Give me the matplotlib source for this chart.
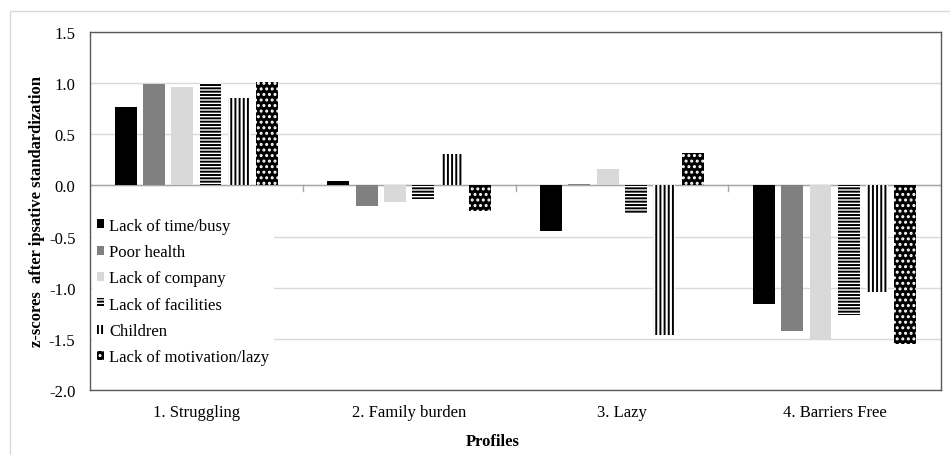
import matplotlib
matplotlib.use("Agg")
import matplotlib.pyplot as plt
from matplotlib.patches import Rectangle

# profiles and barrier scores (z-scores after ipsative standardization)
profiles = ["1. Struggling", "2. Family burden", "3. Lazy", "4. Barriers Free"]
barriers = ["Lack of time/busy", "Poor health", "Lack of company",
            "Lack of facilities", "Children", "Lack of motivation/lazy"]

lack_of_time = [0.77, 0.04, -0.45, -1.16]
poor_health = [0.99, -0.20, 0.01, -1.42]
lack_of_company = [0.96, -0.16, 0.16, -1.50]
lack_of_facilities = [1.00, -0.13, -0.27, -1.27]
children = [0.85, 0.31, -1.46, -1.04]
lack_of_motivation = [1.01, -0.25, 0.32, -1.55]

series = [lack_of_time, poor_health, lack_of_company,
          lack_of_facilities, children, lack_of_motivation]

# face, edge (= hatch colour), hatch
styles = [
    ("black", "black", None),
    ("#808080", "#808080", None),
    ("#d9d9d9", "#d9d9d9", None),
    ("white", "black", "-----"),
    ("white", "black", "||||"),
    ("black", "white", "..."),
]

plt.rcParams["font.family"] = ["Liberation Serif", "DejaVu Serif"]
plt.rcParams["font.size"] = 12
plt.rcParams["hatch.linewidth"] = 1.4

fig = plt.figure(figsize=(9.5, 4.56), dpi=100)
ax = fig.add_axes([90 / 950, 1 - 391 / 456, 851 / 950, 358 / 456])

# outer chart border
fig.patches.append(Rectangle((10 / 950, -0.1), 1.2, 1 - 12 / 456 + 0.1,
                             transform=fig.transFigure, fill=False,
                             edgecolor="#d9d9d9", linewidth=1, zorder=-1))

step = 0.133
width = 0.103
xs = list(range(len(profiles)))
for i, (vals, (fc, ec, h)) in enumerate(zip(series, styles)):
    pos = [x + (i - 2.5) * step for x in xs]
    ax.bar(pos, vals, width, color=fc, edgecolor=ec, hatch=h,
           linewidth=0, label=barriers[i], zorder=3)

ax.axhline(0, color="#a6a6a6", linewidth=1, zorder=2)
for b in [0.5, 1.5, 2.5]:
    ax.plot([b, b], [0, -0.05], color="#a6a6a6", linewidth=1, zorder=2)

ax.set_xlim(-0.5, 3.5)
ax.set_ylim(-2.0, 1.5)
ax.set_yticks([-2.0, -1.5, -1.0, -0.5, 0.0, 0.5, 1.0, 1.5])
ax.set_yticklabels(["%.1f" % v for v in ax.get_yticks()])
ax.set_xticks(xs)
ax.set_xticklabels(profiles)
ax.tick_params(axis="both", length=0)
ax.tick_params(axis="x", pad=10)
ax.tick_params(axis="y", pad=10.5)
ax.yaxis.grid(True, color="#d9d9d9", linewidth=1, zorder=0)
ax.set_axisbelow(True)
for s in ax.spines.values():
    s.set_color("#595959")
    s.set_linewidth(1)

ax.set_ylabel("z-scores  after ipsative standardization", fontweight="bold",
              labelpad=3)
fig.text(493 / 950, 1 - 442 / 456, "Profiles", fontweight="bold",
         ha="center", va="center")

leg = ax.legend(loc="upper left", bbox_to_anchor=(0.0, 0.50), frameon=True,
                fancybox=False, framealpha=1, edgecolor="white",
                handlelength=0.45, handleheight=0.45, handletextpad=0.3,
                labelspacing=0.62, borderpad=0.3, borderaxespad=0.1)
leg.get_frame().set_linewidth(0)
leg.set_zorder(5)

fig.savefig("out.png", dpi=100)
